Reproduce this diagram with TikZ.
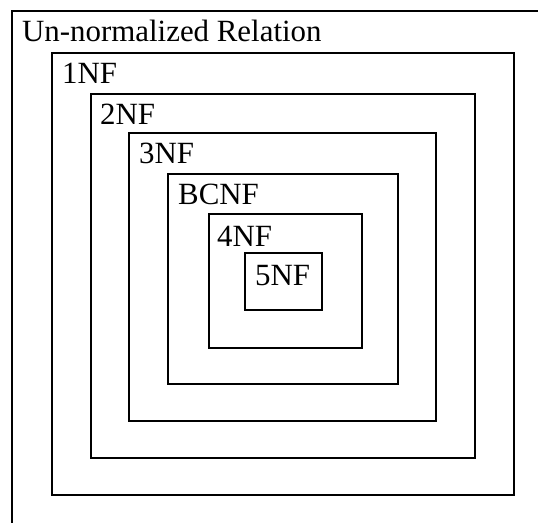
\documentclass[tikz,border=0pt]{standalone}
\usepackage{fontspec}
\setmainfont{Liberation Serif}
\begin{document}
\begin{tikzpicture}[x=1bp,y=-1bp,
  nfbox/.style={draw=black,line width=1.8bp},
  nflabel/.style={anchor=base west,inner sep=0pt,font=\fontsize{31}{34}\selectfont}]
\useasboundingbox (0,0) rectangle (538,523);
% outermost relation, running past the right and bottom edges
\draw[nfbox] (12,523) -- (12,11) -- (538,11);
\node[nflabel] (unf) at (22,42) {Un-normalized Relation};
% nested normal forms
\draw[nfbox] (52,53) rectangle (514,495);
\node[nflabel] (nf1) at (62,84) {1NF};
\draw[nfbox] (91,94) rectangle (475,458);
\node[nflabel] (nf2) at (100,125) {2NF};
\draw[nfbox] (129,133) rectangle (436,421);
\node[nflabel] (nf3) at (139,164) {3NF};
\draw[nfbox] (168,174) rectangle (398,384);
\node[nflabel] (bcnf) at (178,205) {BCNF};
\draw[nfbox] (209,214) rectangle (362,348);
\node[nflabel] (nf4) at (217,246) {4NF};
\draw[nfbox] (245,253) rectangle (322,310);
\node[nflabel] (nf5) at (255,285) {5NF};
\end{tikzpicture}
\end{document}
